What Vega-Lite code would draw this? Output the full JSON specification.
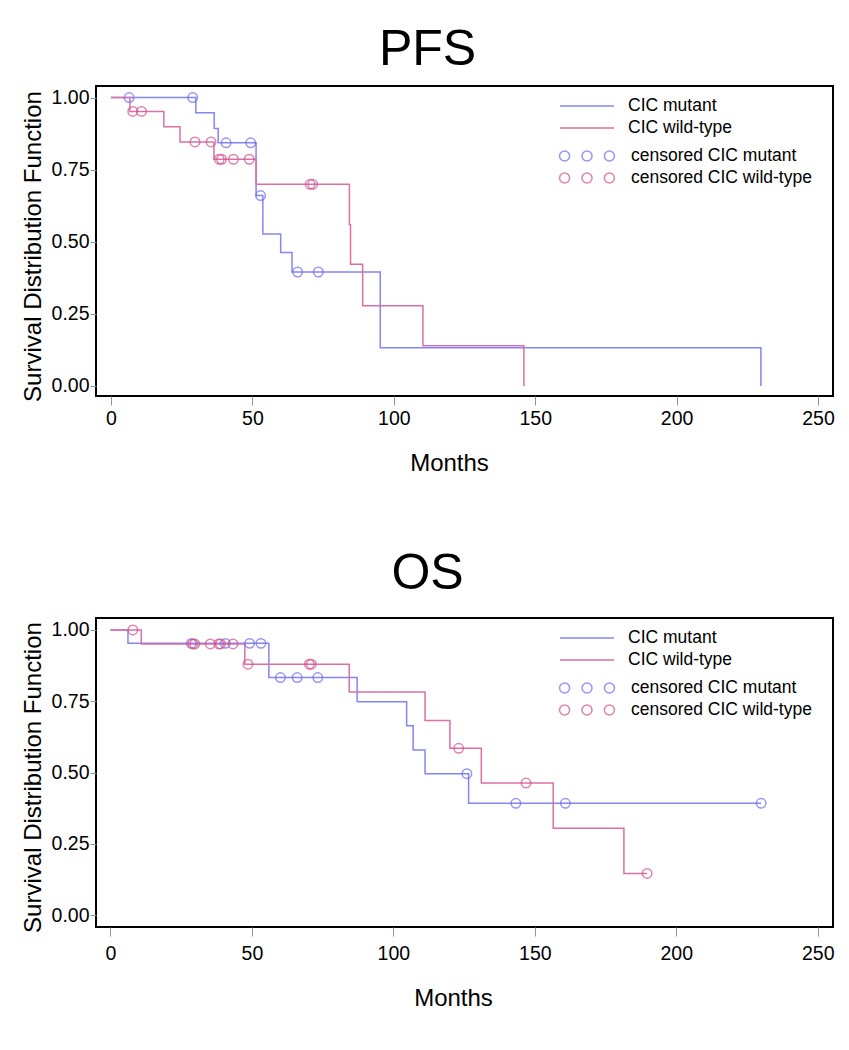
{
  "$schema": "https://vega.github.io/schema/vega-lite/v6.json",
  "padding": {"left": 20, "top": 24, "right": 5, "bottom": 5},
  "background": "white",
  "config": {
    "font": "Liberation Sans",
    "view": {"stroke": "black", "strokeWidth": 2},
    "axis": {"domain": false, "grid": false, "labelFont": "Liberation Sans", "labelFontSize": 19.5, "labelColor": "black", "titleFont": "Liberation Sans", "titleFontSize": 24, "titleFontWeight": "normal", "titleColor": "black", "tickColor": "#8a9a95", "tickWidth": 1},
    "title": {"font": "Liberation Sans", "fontSize": 50, "fontWeight": "normal", "color": "black", "anchor": "middle", "baseline": "alphabetic"},
    "legend": {"orient": "none", "padding": 0, "labelFont": "Liberation Sans", "labelFontSize": 17.5, "labelColor": "black", "labelLimit": 400, "rowPadding": 3, "symbolStrokeWidth": 1.5}
  },
  "datasets": {
    "km": [
      {"p": "PFS", "t": "step", "s": "CIC mutant", "m": 0, "v": 1},
      {"p": "PFS", "t": "step", "s": "CIC mutant", "m": 30.0, "v": 0.947},
      {"p": "PFS", "t": "step", "s": "CIC mutant", "m": 36.5, "v": 0.893},
      {"p": "PFS", "t": "step", "s": "CIC mutant", "m": 37.9, "v": 0.843},
      {"p": "PFS", "t": "step", "s": "CIC mutant", "m": 51.3, "v": 0.66},
      {"p": "PFS", "t": "step", "s": "CIC mutant", "m": 53.7, "v": 0.527},
      {"p": "PFS", "t": "step", "s": "CIC mutant", "m": 60.0, "v": 0.463},
      {"p": "PFS", "t": "step", "s": "CIC mutant", "m": 64.0, "v": 0.395},
      {"p": "PFS", "t": "step", "s": "CIC mutant", "m": 95.2, "v": 0.132},
      {"p": "PFS", "t": "step", "s": "CIC mutant", "m": 229.8, "v": 0},
      {"p": "PFS", "t": "cens", "s": "censored CIC mutant", "m": 6.4, "v": 1},
      {"p": "PFS", "t": "cens", "s": "censored CIC mutant", "m": 28.9, "v": 1},
      {"p": "PFS", "t": "cens", "s": "censored CIC mutant", "m": 40.7, "v": 0.843},
      {"p": "PFS", "t": "cens", "s": "censored CIC mutant", "m": 49.4, "v": 0.843},
      {"p": "PFS", "t": "cens", "s": "censored CIC mutant", "m": 52.9, "v": 0.66},
      {"p": "PFS", "t": "cens", "s": "censored CIC mutant", "m": 66.0, "v": 0.395},
      {"p": "PFS", "t": "cens", "s": "censored CIC mutant", "m": 73.3, "v": 0.395},
      {"p": "PFS", "t": "step", "s": "CIC wild-type", "m": 0, "v": 1},
      {"p": "PFS", "t": "step", "s": "CIC wild-type", "m": 6.7, "v": 0.952},
      {"p": "PFS", "t": "step", "s": "CIC wild-type", "m": 18.7, "v": 0.899},
      {"p": "PFS", "t": "step", "s": "CIC wild-type", "m": 24.4, "v": 0.846},
      {"p": "PFS", "t": "step", "s": "CIC wild-type", "m": 36.4, "v": 0.786},
      {"p": "PFS", "t": "step", "s": "CIC wild-type", "m": 51.3, "v": 0.699},
      {"p": "PFS", "t": "step", "s": "CIC wild-type", "m": 84.3, "v": 0.559},
      {"p": "PFS", "t": "step", "s": "CIC wild-type", "m": 84.7, "v": 0.422},
      {"p": "PFS", "t": "step", "s": "CIC wild-type", "m": 89.0, "v": 0.278},
      {"p": "PFS", "t": "step", "s": "CIC wild-type", "m": 110.3, "v": 0.139},
      {"p": "PFS", "t": "step", "s": "CIC wild-type", "m": 146.0, "v": 0},
      {"p": "PFS", "t": "cens", "s": "censored CIC wild-type", "m": 7.7, "v": 0.952},
      {"p": "PFS", "t": "cens", "s": "censored CIC wild-type", "m": 10.8, "v": 0.952},
      {"p": "PFS", "t": "cens", "s": "censored CIC wild-type", "m": 29.7, "v": 0.846},
      {"p": "PFS", "t": "cens", "s": "censored CIC wild-type", "m": 35.4, "v": 0.846},
      {"p": "PFS", "t": "cens", "s": "censored CIC wild-type", "m": 38.3, "v": 0.786},
      {"p": "PFS", "t": "cens", "s": "censored CIC wild-type", "m": 39.1, "v": 0.786},
      {"p": "PFS", "t": "cens", "s": "censored CIC wild-type", "m": 43.3, "v": 0.786},
      {"p": "PFS", "t": "cens", "s": "censored CIC wild-type", "m": 48.9, "v": 0.786},
      {"p": "PFS", "t": "cens", "s": "censored CIC wild-type", "m": 70.4, "v": 0.699},
      {"p": "PFS", "t": "cens", "s": "censored CIC wild-type", "m": 71.3, "v": 0.699},
      {"p": "OS", "t": "step", "s": "CIC mutant", "m": 0, "v": 1},
      {"p": "OS", "t": "step", "s": "CIC mutant", "m": 6.2, "v": 0.953},
      {"p": "OS", "t": "step", "s": "CIC mutant", "m": 56.0, "v": 0.833},
      {"p": "OS", "t": "step", "s": "CIC mutant", "m": 87.2, "v": 0.748},
      {"p": "OS", "t": "step", "s": "CIC mutant", "m": 104.7, "v": 0.664},
      {"p": "OS", "t": "step", "s": "CIC mutant", "m": 107.0, "v": 0.579},
      {"p": "OS", "t": "step", "s": "CIC mutant", "m": 111.2, "v": 0.496},
      {"p": "OS", "t": "step", "s": "CIC mutant", "m": 126.6, "v": 0.392},
      {"p": "OS", "t": "step", "s": "CIC mutant", "m": 230.0, "v": 0.392},
      {"p": "OS", "t": "cens", "s": "censored CIC mutant", "m": 28.6, "v": 0.953},
      {"p": "OS", "t": "cens", "s": "censored CIC mutant", "m": 40.6, "v": 0.953},
      {"p": "OS", "t": "cens", "s": "censored CIC mutant", "m": 49.2, "v": 0.953},
      {"p": "OS", "t": "cens", "s": "censored CIC mutant", "m": 53.2, "v": 0.953},
      {"p": "OS", "t": "cens", "s": "censored CIC mutant", "m": 60.1, "v": 0.833},
      {"p": "OS", "t": "cens", "s": "censored CIC mutant", "m": 66.0, "v": 0.833},
      {"p": "OS", "t": "cens", "s": "censored CIC mutant", "m": 73.3, "v": 0.833},
      {"p": "OS", "t": "cens", "s": "censored CIC mutant", "m": 126.0, "v": 0.496},
      {"p": "OS", "t": "cens", "s": "censored CIC mutant", "m": 143.3, "v": 0.392},
      {"p": "OS", "t": "cens", "s": "censored CIC mutant", "m": 160.8, "v": 0.392},
      {"p": "OS", "t": "cens", "s": "censored CIC mutant", "m": 230.0, "v": 0.392},
      {"p": "OS", "t": "step", "s": "CIC wild-type", "m": 0, "v": 1},
      {"p": "OS", "t": "step", "s": "CIC wild-type", "m": 10.9, "v": 0.951},
      {"p": "OS", "t": "step", "s": "CIC wild-type", "m": 47.5, "v": 0.88},
      {"p": "OS", "t": "step", "s": "CIC wild-type", "m": 84.4, "v": 0.782},
      {"p": "OS", "t": "step", "s": "CIC wild-type", "m": 111.2, "v": 0.682},
      {"p": "OS", "t": "step", "s": "CIC wild-type", "m": 120.0, "v": 0.585},
      {"p": "OS", "t": "step", "s": "CIC wild-type", "m": 131.1, "v": 0.463},
      {"p": "OS", "t": "step", "s": "CIC wild-type", "m": 156.5, "v": 0.304},
      {"p": "OS", "t": "step", "s": "CIC wild-type", "m": 181.5, "v": 0.146},
      {"p": "OS", "t": "step", "s": "CIC wild-type", "m": 189.7, "v": 0.146},
      {"p": "OS", "t": "cens", "s": "censored CIC wild-type", "m": 7.9, "v": 1},
      {"p": "OS", "t": "cens", "s": "censored CIC wild-type", "m": 29.1, "v": 0.951},
      {"p": "OS", "t": "cens", "s": "censored CIC wild-type", "m": 29.8, "v": 0.951},
      {"p": "OS", "t": "cens", "s": "censored CIC wild-type", "m": 35.3, "v": 0.951},
      {"p": "OS", "t": "cens", "s": "censored CIC wild-type", "m": 38.3, "v": 0.951},
      {"p": "OS", "t": "cens", "s": "censored CIC wild-type", "m": 38.9, "v": 0.951},
      {"p": "OS", "t": "cens", "s": "censored CIC wild-type", "m": 43.3, "v": 0.951},
      {"p": "OS", "t": "cens", "s": "censored CIC wild-type", "m": 48.6, "v": 0.88},
      {"p": "OS", "t": "cens", "s": "censored CIC wild-type", "m": 70.3, "v": 0.88},
      {"p": "OS", "t": "cens", "s": "censored CIC wild-type", "m": 71.0, "v": 0.88},
      {"p": "OS", "t": "cens", "s": "censored CIC wild-type", "m": 123.1, "v": 0.585},
      {"p": "OS", "t": "cens", "s": "censored CIC wild-type", "m": 146.9, "v": 0.463},
      {"p": "OS", "t": "cens", "s": "censored CIC wild-type", "m": 189.7, "v": 0.146}
    ]
  },
  "spacing": 222,
  "bounds": "flush",
  "resolve": {"scale": {"color": "independent", "x": "independent", "y": "independent"}, "legend": {"color": "independent"}},
  "vconcat": [
    {
      "title": {"text": "PFS", "offset": 11, "dx": -37},
      "width": 737,
      "height": 310,
      "data": {"name": "km"},
      "transform": [{"filter": "datum.p === 'PFS'"}],
      "encoding": {
        "x": {"field": "m", "type": "quantitative", "scale": {"domain": [-5.3, 255.3], "nice": false, "zero": false},
              "axis": {"values": [0, 50, 100, 150, 200, 250], "title": "Months", "tickSize": 9, "labelPadding": 4, "titleX": 353, "titleY": 74, "titleBaseline": "alphabetic"}},
        "y": {"field": "v", "type": "quantitative", "scale": {"domain": [-0.035, 1.04], "nice": false, "zero": false},
              "axis": {"values": [0, 0.25, 0.5, 0.75, 1], "format": ".2f", "title": "Survival Distribution Function", "tickSize": 6, "labelPadding": 1, "titleX": -63, "titleY": 160, "titleBaseline": "middle"}}
      },
      "layer": [
        {
          "transform": [{"filter": "datum.t === 'step'"}],
          "mark": {"type": "line", "interpolate": "step-after", "strokeWidth": 1.5},
          "encoding": {"color": {"field": "s", "type": "nominal",
            "scale": {"domain": ["CIC mutant", "CIC wild-type"], "range": ["#8585f6", "#dc70a2"]},
            "legend": {"title": null, "legendX": 481, "legendY": 10, "symbolType": "M-3,0L3,0", "symbolSize": 324, "labelOffset": 31}}}
        },
        {
          "transform": [{"filter": "datum.t === 'cens'"}],
          "mark": {"type": "point", "shape": "circle", "filled": false, "size": 90, "strokeWidth": 1.5},
          "encoding": {"color": {"field": "s", "type": "nominal",
            "scale": {"domain": ["censored CIC mutant", "censored CIC wild-type"], "range": ["#6b6bf0", "#d24f8c"]},
            "legend": {"title": null, "legendX": 481, "legendY": 60, "symbolType": "M-3.05,0A0.56,0.56 0 1,0 -1.93,0A0.56,0.56 0 1,0 -3.05,0Z M-0.56,0A0.56,0.56 0 1,0 0.56,0A0.56,0.56 0 1,0 -0.56,0Z M1.93,0A0.56,0.56 0 1,0 3.05,0A0.56,0.56 0 1,0 1.93,0Z", "symbolSize": 324, "symbolFillColor": "transparent", "labelOffset": 34}}}
        }
      ],
      "resolve": {"scale": {"color": "independent"}}
    },
    {
      "title": {"text": "OS", "offset": 19, "dx": -37},
      "width": 737,
      "height": 309,
      "data": {"name": "km"},
      "transform": [{"filter": "datum.p === 'OS'"}],
      "encoding": {
        "x": {"field": "m", "type": "quantitative", "scale": {"domain": [-5.1, 255.4], "nice": false, "zero": false},
              "axis": {"values": [0, 50, 100, 150, 200, 250], "title": "Months", "tickSize": 9, "labelPadding": 8, "titleX": 357, "titleY": 78, "titleBaseline": "alphabetic"}},
        "y": {"field": "v", "type": "quantitative", "scale": {"domain": [-0.042, 1.042], "nice": false, "zero": false},
              "axis": {"values": [0, 0.25, 0.5, 0.75, 1], "format": ".2f", "title": "Survival Distribution Function", "tickSize": 6, "labelPadding": 1, "titleX": -63, "titleY": 159, "titleBaseline": "middle"}}
      },
      "layer": [
        {
          "transform": [{"filter": "datum.t === 'step'"}],
          "mark": {"type": "line", "interpolate": "step-after", "strokeWidth": 1.5},
          "encoding": {"color": {"field": "s", "type": "nominal",
            "scale": {"domain": ["CIC mutant", "CIC wild-type"], "range": ["#8585f6", "#dc70a2"]},
            "legend": {"title": null, "legendX": 481, "legendY": 10, "symbolType": "M-3,0L3,0", "symbolSize": 324, "labelOffset": 31}}}
        },
        {
          "transform": [{"filter": "datum.t === 'cens'"}],
          "mark": {"type": "point", "shape": "circle", "filled": false, "size": 90, "strokeWidth": 1.5},
          "encoding": {"color": {"field": "s", "type": "nominal",
            "scale": {"domain": ["censored CIC mutant", "censored CIC wild-type"], "range": ["#6b6bf0", "#d24f8c"]},
            "legend": {"title": null, "legendX": 481, "legendY": 60, "symbolType": "M-3.05,0A0.56,0.56 0 1,0 -1.93,0A0.56,0.56 0 1,0 -3.05,0Z M-0.56,0A0.56,0.56 0 1,0 0.56,0A0.56,0.56 0 1,0 -0.56,0Z M1.93,0A0.56,0.56 0 1,0 3.05,0A0.56,0.56 0 1,0 1.93,0Z", "symbolSize": 324, "symbolFillColor": "transparent", "labelOffset": 34}}}
        }
      ],
      "resolve": {"scale": {"color": "independent"}}
    }
  ]
}
